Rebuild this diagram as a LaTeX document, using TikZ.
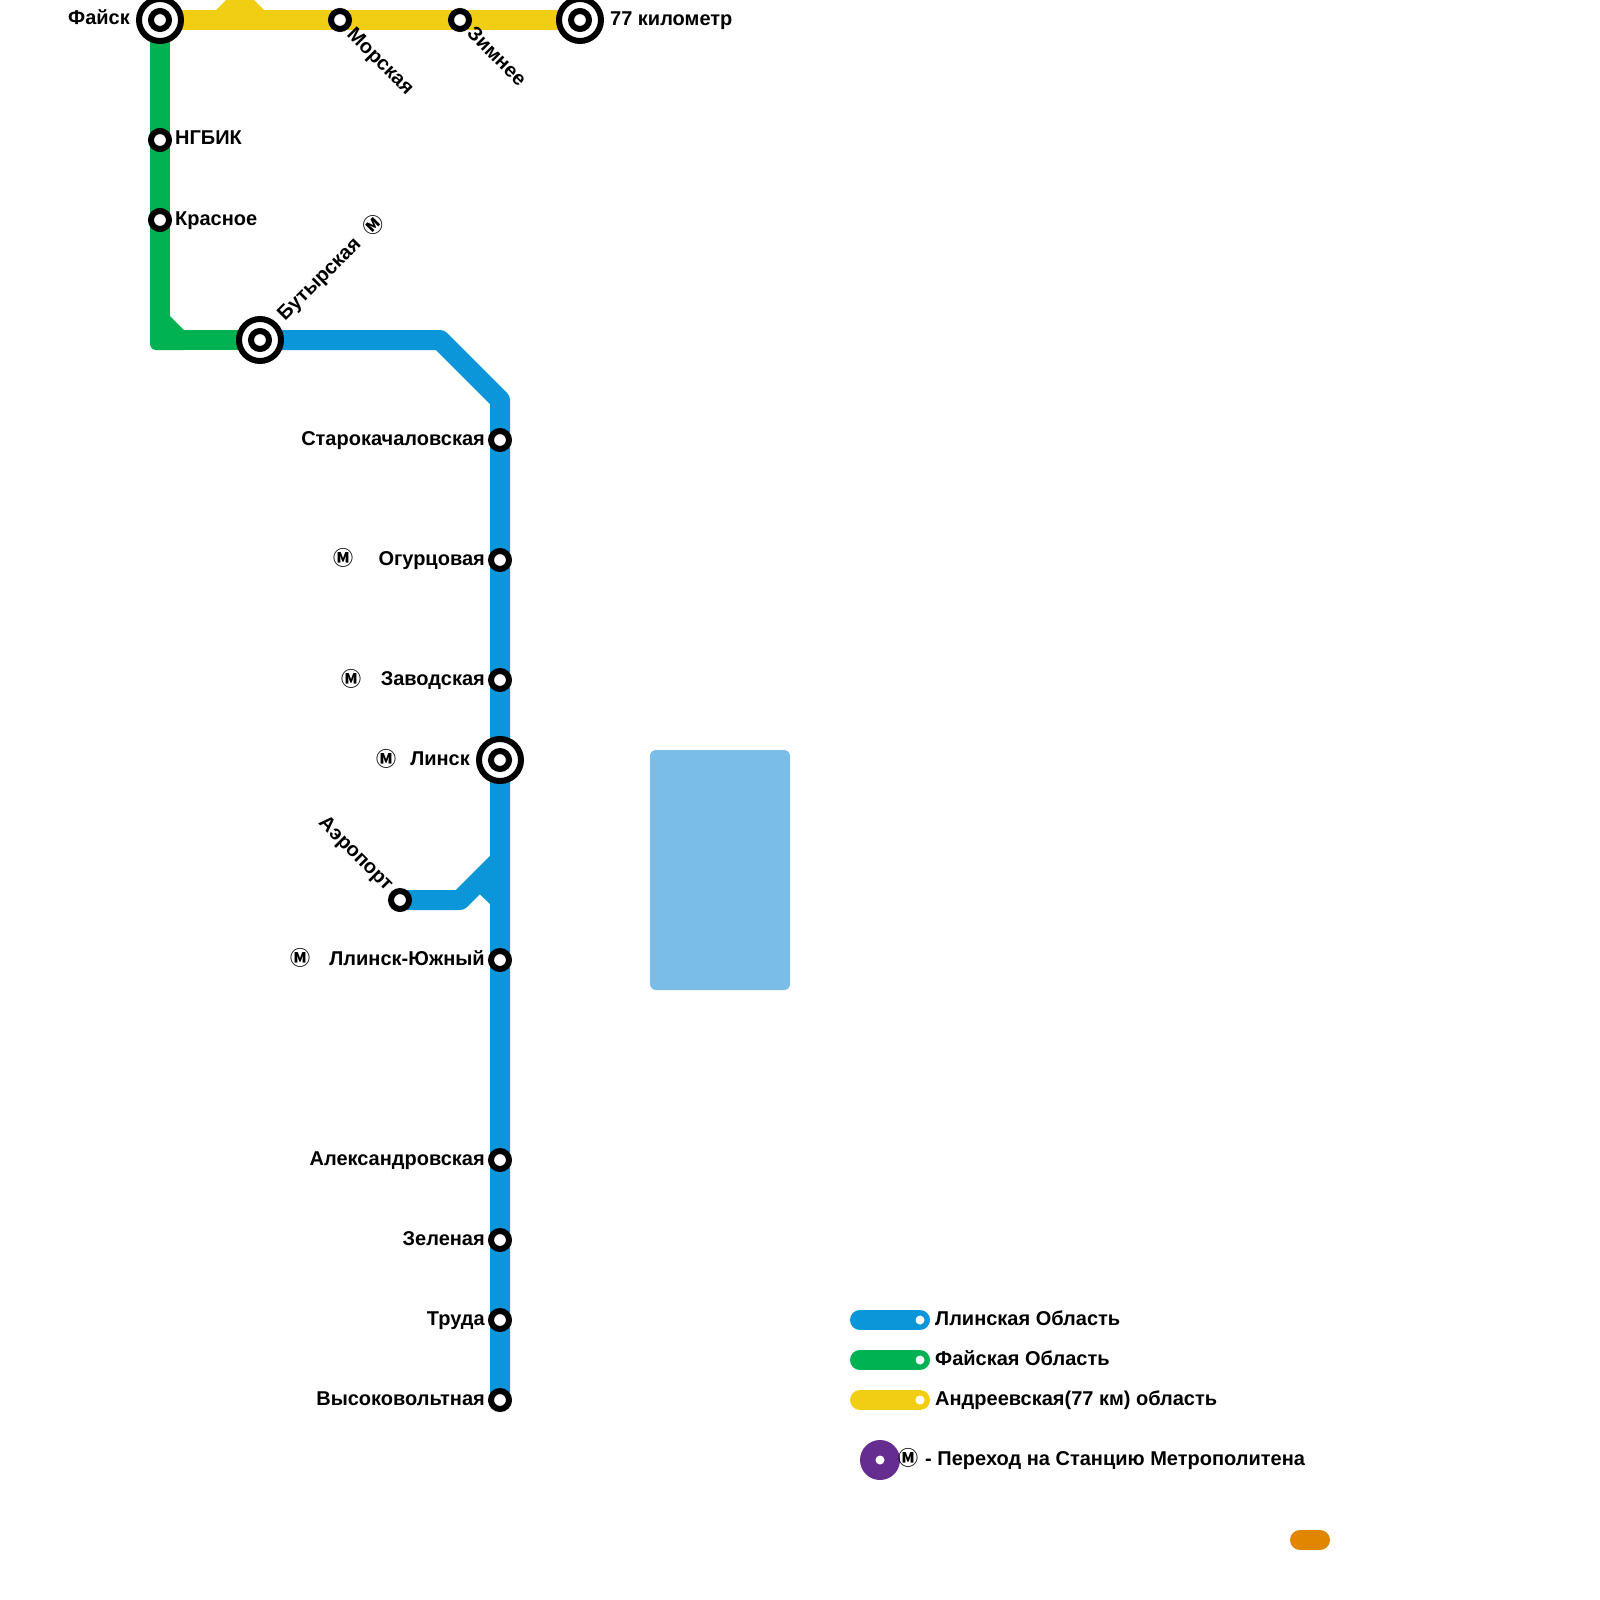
\documentclass[tikz,border=0pt]{standalone}
\usepackage{fontspec}
\setmainfont{Liberation Sans}
\newfontfamily\symfont{Noto Sans CJK JP}
\usetikzlibrary{backgrounds}
\definecolor{lblue}{HTML}{0A96D8}
\definecolor{lgreen}{HTML}{00B251}
\definecolor{lyellow}{HTML}{F1CE14}
\definecolor{lpurple}{HTML}{662D91}
\definecolor{lorange}{HTML}{E08600}
\definecolor{lwater}{HTML}{7ABDE8}
\tikzset{
  x=1pt,y=-1pt,
  station/.style={circle,draw=black,line width=6pt,fill=white,minimum size=18pt,inner sep=0pt},
  bigring/.style={circle,draw=black,line width=6pt,fill=white,minimum size=42pt,inner sep=0pt},
  lbl/.style={font=\bfseries\fontsize{20}{24}\selectfont,inner sep=0pt,text=black},
  lineseg/.style={line width=20pt,line join=round},
  pill/.style={line width=20pt,line cap=round},
  dotw/.style={circle,fill=white,minimum size=9pt,inner sep=0pt},
  metro/.style={inner sep=0pt,font=\symfont\bfseries\fontsize{20}{24}\selectfont}
}
\begin{document}
\begin{tikzpicture}
\useasboundingbox (0,0) rectangle (1600,1600);
% stations
\node[bigring] (fajskR) at (160,20) {};
\node[station] (fajsk) at (160,20) {};
\node[station] (morsk) at (340,20) {};
\node[station] (zimn) at (460,20) {};
\node[bigring] (kmR) at (580,20) {};
\node[station] (km) at (580,20) {};
\node[station] (ngbik) at (160,140) {};
\node[station] (krasn) at (160,220) {};
\node[bigring] (butR) at (260,340) {};
\node[station] (but) at (260,340) {};
\node[station] (staro) at (500,440) {};
\node[station] (ogur) at (500,560) {};
\node[station] (zavod) at (500,680) {};
\node[bigring] (linskR) at (500,760) {};
\node[station] (linsk) at (500,760) {};
\node[station] (aero) at (400,900) {};
\node[station] (yuzh) at (500,960) {};
\node[station] (alex) at (500,1160) {};
\node[station] (zel) at (500,1240) {};
\node[station] (trud) at (500,1320) {};
\node[station] (vys) at (500,1400) {};
\coordinate (cornerG) at (160,340);
\coordinate (bendA) at (440,340);
\coordinate (bendB) at (500,400);
\coordinate (brA) at (460,900);
\coordinate (brB) at (500,860);
% lines
\begin{scope}[on background layer]
\fill[lwater,rounded corners=6pt] (650,750) rectangle (790,990);
\fill[lyellow] (216,10) -- (226,0) -- (254,0) -- (264,10) -- cycle;
\draw[lineseg,lyellow] (fajsk.center) -- (km.center);
\fill[lgreen] (170,316) -- (184,330) -- (170,330) -- cycle;
\fill[lgreen,rounded corners=6pt] (150,330) rectangle (190,350);
\draw[lineseg,lgreen] (fajsk.center) -- (cornerG) -- (but.center);
\draw[lineseg,lblue] (but.center) -- (bendA) -- (bendB) -- (vys.center);
\draw[lineseg,lblue] (aero.center) -- (brA) -- (brB);
\fill[lblue] (470,885) -- (490,904) -- (490,870) -- cycle;
\end{scope}
% labels
\node[lbl,anchor=base east] (tfajsk) at (130,25) {Файск};
\node[lbl,anchor=base west] (tkm) at (610,26) {77 километр};
\node[lbl,anchor=base west,rotate=-45] (tmorsk) at (346,35.5) {Морская};
\node[lbl,anchor=base west,rotate=-45] (tzimn) at (466,34.5) {Зимнее};
\node[lbl,anchor=base west] (tngbik) at (175,145) {НГБИК};
\node[lbl,anchor=base west] (tkrasn) at (175,225) {Красное};
\node[lbl,anchor=base west,rotate=45] (tbut) at (285,322) {Бутырская};
\node[metro,rotate=45] (mbut) at (373,225) {Ⓜ};
\node[lbl,anchor=base east] (tstaro) at (485,445) {Старокачаловская};
\node[lbl,anchor=base east] (togur) at (485,565) {Огурцовая};
\node[metro] (mogur) at (343,558) {Ⓜ};
\node[lbl,anchor=base east] (tzavod) at (485,685) {Заводская};
\node[metro] (mzavod) at (351,679) {Ⓜ};
\node[lbl,anchor=base east] (tlinsk) at (470,765) {Линск};
\node[metro] (mlinsk) at (386,759) {Ⓜ};
\node[lbl,anchor=base east,rotate=-45] (taero) at (386,892) {Аэропорт};
\node[lbl,anchor=base east] (tyuzh) at (485,965) {Ллинск-Южный};
\node[metro] (myuzh) at (300,958) {Ⓜ};
\node[lbl,anchor=base east] (talex) at (485,1165) {Александровская};
\node[lbl,anchor=base east] (tzel) at (485,1245) {Зеленая};
\node[lbl,anchor=base east] (ttrud) at (485,1325) {Труда};
\node[lbl,anchor=base east] (tvys) at (485,1405) {Высоковольтная};
% legend
\coordinate (p1a) at (860,1320);
\node[dotw] (p1b) at (920,1320) {};
\coordinate (p2a) at (860,1360);
\node[dotw] (p2b) at (920,1360) {};
\coordinate (p3a) at (860,1400);
\node[dotw] (p3b) at (920,1400) {};
\coordinate (p4a) at (1300,1540);
\coordinate (p4b) at (1320,1540);
\begin{scope}[on background layer]
\draw[pill,lblue] (p1a) -- (p1b.center);
\draw[pill,lgreen] (p2a) -- (p2b.center);
\draw[pill,lyellow] (p3a) -- (p3b.center);
\draw[pill,lorange] (p4a) -- (p4b);
\end{scope}
\node[lbl,anchor=base west] (l1) at (935,1325) {Ллинская Область};
\node[lbl,anchor=base west] (l2) at (935,1365) {Файская Область};
\node[lbl,anchor=base west] (l3) at (935,1405) {Андреевская(77 км) область};
\node[circle,fill=lpurple,minimum size=40pt,inner sep=0pt] (purp) at (880,1460) {};
\node[dotw] (purpd) at (880,1460) {};
\node[metro] (mleg) at (908,1458) {Ⓜ};
\node[lbl,anchor=base west] (l4) at (925,1465) {- Переход на Станцию Метрополитена};
\end{tikzpicture}
\end{document}
